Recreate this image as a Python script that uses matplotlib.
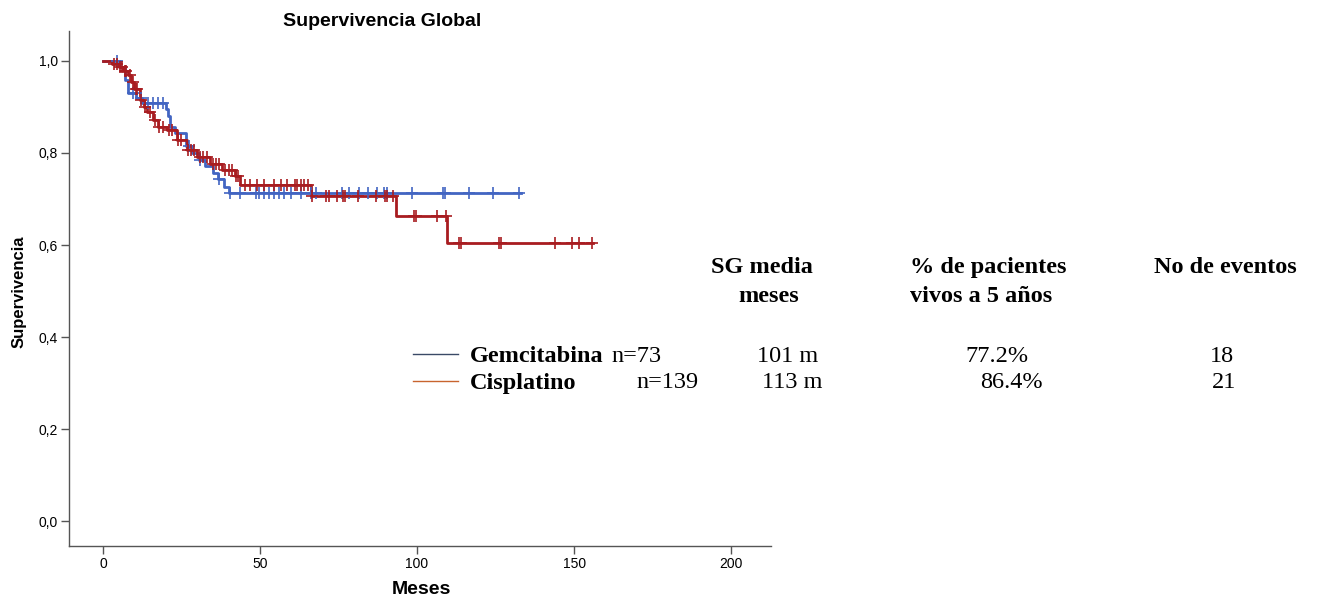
import numpy as np
import matplotlib
matplotlib.use("Agg")
import matplotlib.pyplot as plt

# ---------------- data ----------------
# Gemcitabina (blue) step function
gem_times = [0, 5.5, 7, 8, 10.5, 12.5, 20, 20.8, 21.5, 23, 26.5, 28.3, 30.5, 32.5, 35, 36.5, 38.5, 40]
gem_surv = [1.0, 0.986, 0.958, 0.93, 0.92, 0.909, 0.895, 0.88, 0.857, 0.843, 0.815, 0.80,
            0.785, 0.771, 0.757, 0.743, 0.727, 0.713]
gem_end = 133
gem_censor = [4.5, 9.5, 12, 14.5, 16, 17.5, 19, 27.5, 31, 37,
              40.3, 43.5, 48.6, 49.8, 51.4, 53, 54.6, 56.2, 57.8, 60, 63.2, 66.3, 67.9,
              76.2, 78.4, 81.6, 84.4, 87.3, 89.5, 90.5, 98.4, 108.3, 108.9, 116.5, 124.1, 132.5]

# Cisplatino (red) step function
cis_times = [0, 3, 5, 6.5, 8, 9, 10, 11.7, 13, 14, 15.9, 17.5, 20.3, 23.5, 26.7, 29.8, 34, 38,
             42, 43.5, 66.3, 93.3, 109.5]
cis_surv = [1.0, 0.993, 0.986, 0.978, 0.970, 0.955, 0.94, 0.915, 0.90, 0.889, 0.872, 0.857,
            0.85, 0.828, 0.807, 0.791, 0.776, 0.763, 0.75, 0.73, 0.706, 0.663, 0.604]
cis_end = 156
cis_censor = [3.5, 4.5, 5.5, 6, 7, 7.5, 8.5, 9.5, 10.5, 11, 12, 13.5, 15, 16.5, 18, 19, 21, 22,
              24, 25, 27, 28, 29, 31, 32, 33, 35, 36, 37, 39, 40, 41, 42.5, 43,
              45.1, 46.7, 48.9, 51.4, 54.6, 56.8, 58.7, 61, 61.9, 63.2, 64.1, 65.4,
              66.7, 71.1, 72.1, 74.6, 76.5, 77.1, 81.3, 87, 89.8, 90.5, 92.4,
              99, 99.7, 106.3, 109.2, 113.3, 114, 126, 126.7, 143.8, 149.5, 151.7, 155.6]

x_ticks = [0, 50, 100, 150, 200]
y_ticks = [0.0, 0.2, 0.4, 0.6, 0.8, 1.0]
y_ticklabels = ["0,0", "0,2", "0,4", "0,6", "0,8", "1,0"]

groups = ["Gemcitabina", "Cisplatino"]
n_labels = ["n=73", "n=139"]
sg_media = ["101 m", "113 m"]
pct_5y = ["77.2%", "86.4%"]
n_events = ["18", "21"]

BLUE = "#4265c2"
RED = "#a81c20"

W, H = 1328, 598
fig = plt.figure(figsize=(W / 100, H / 100), dpi=100)
ax = fig.add_axes([69 / W, 1 - 546 / H, (771 - 69) / W, (546 - 31) / H])


def draw_km(times, surv, end, censor, color):
    t = np.array(list(times) + [end])
    s = np.array(list(surv) + [surv[-1]])
    ax.step(t, s, where="post", color=color, lw=2.0, zorder=3)
    c = np.array(censor)
    idx = np.searchsorted(np.array(times), c, side="right") - 1
    cy = np.array(surv)[idx]
    ax.plot(c, cy, ls="none", marker="+", ms=8, mew=1.2, color=color, zorder=4)


draw_km(gem_times, gem_surv, gem_end, gem_censor, BLUE)
draw_km(cis_times, cis_surv, cis_end, cis_censor, RED)

ax.set_xlim(-10.8, 212.7)
ax.set_ylim(-0.054, 1.065)
ax.set_xticks(x_ticks)
ax.set_xticklabels([str(v) for v in x_ticks], fontsize=10, family="Liberation Sans")
ax.set_yticks(y_ticks)
ax.set_yticklabels(y_ticklabels, fontsize=10, family="Liberation Sans")
for sp in ["top", "right"]:
    ax.spines[sp].set_visible(False)
for sp in ["left", "bottom"]:
    ax.spines[sp].set_color("#555555")
    ax.spines[sp].set_linewidth(1.0)
ax.tick_params(direction="out", length=6, width=1, color="#555555", pad=2)

fig.text(382 / W, 1 - 22 / H, "Supervivencia Global", ha="center", va="center",
         fontsize=14, fontweight="bold", family="Liberation Sans")
fig.text(19 / W, 1 - 292 / H, "Supervivencia", ha="center", va="center", rotation=90,
         fontsize=12, fontweight="bold", family="Liberation Sans")
fig.text(421 / W, 1 - 590 / H, "Meses", ha="center", va="center",
         fontsize=14, fontweight="bold", family="Liberation Sans")

# ------------- table / legend -------------
SERIF = "Liberation Serif"
FS = 17.5
def ftext(x, y, s, ha="left", bold=False):
    fig.text(x / W, 1 - y / H, s, ha=ha, va="center", fontsize=FS,
             fontweight="bold" if bold else "normal", family=SERIF)

ftext(711, 268, "SG media", bold=True)
ftext(769, 296, "meses", ha="center", bold=True)
ftext(910, 268, "% de pacientes", bold=True)
ftext(910, 296, "vivos a 5 años", bold=True)
ftext(1154, 268, "No de eventos", bold=True)

leg_colors = ["#3a4a66", "#c8642e"]
rows_y = [356, 383]
n_x = [611, 636]
sg_x = [757, 762]
pct_x = [965, 980]
ev_x = [1210, 1212]
for i in range(2):
    y = rows_y[i]
    fig.add_artist(plt.Line2D([413 / W, 458 / W], [1 - (y - 2) / H, 1 - (y - 2) / H],
                              color=leg_colors[i], lw=1.0))
    ftext(470, y, groups[i], bold=True)
    ftext(n_x[i], y, n_labels[i])
    ftext(sg_x[i], y, sg_media[i])
    ftext(pct_x[i], y, pct_5y[i])
    ftext(ev_x[i], y, n_events[i])

fig.savefig("out.png", dpi=100)
